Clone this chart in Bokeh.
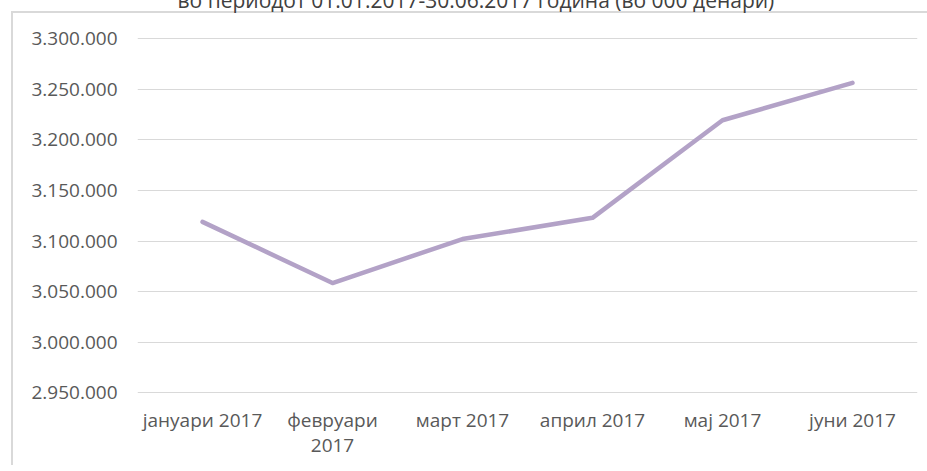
from bokeh.plotting import figure
from bokeh.models import FixedTicker, LinearAxis, Range1d
from bokeh.embed import file_html
from bokeh.resources import INLINE

# ---- data ----
months = ["јануари 2017", "февруари 2017", "март 2017", "април 2017", "мај 2017", "јуни 2017"]
# tick text as shown (февруари 2017 is wrapped onto two lines in the original)
month_first_lines = ["јануари 2017", "февруари", "март 2017", "април 2017", "мај 2017", "јуни 2017"]
month_second_lines = ["", "2017", "", "", "", ""]
values = [3119000, 3058500, 3102000, 3123000, 3219500, 3256500]
y_ticks = [2950000, 3000000, 3050000, 3100000, 3150000, 3200000, 3250000, 3300000]
y_tick_labels = ["2.950.000", "3.000.000", "3.050.000", "3.100.000",
                 "3.150.000", "3.200.000", "3.250.000", "3.300.000"]
title_text = "во периодот 01.01.2017-30.06.2017 година (во 000 денари)"

FONT = "Open Sans"
GRAY = "#595959"
BORDER = "#D9D9D9"

xs = list(range(len(months)))

p = figure(
    x_range=Range1d(-0.5, len(months) - 0.5),
    y_range=Range1d(2949300, 3301300),
    width=927, height=510,
    output_backend="svg", toolbar_location=None,
    min_border_left=137, min_border_right=10,
    min_border_top=82, min_border_bottom=72,
    title=title_text,
)
# canvas starts 45px above the window so the title is cut off as in the original;
# the chart-area frame (top and left edges) is painted behind the transparent canvas
p.styles = {
    "margin-top": "-45px",
    "background-color": "white",
    "background-image": f"linear-gradient({BORDER}, {BORDER}), linear-gradient({BORDER}, {BORDER})",
    "background-size": "100% 2px, 2px 100%",
    "background-position": "11px 56px, 11px 56px",
    "background-repeat": "no-repeat",
}
p.background_fill_color = "white"
p.border_fill_alpha = 0
p.outline_line_color = None

p.title.text_font = FONT
p.title.text_font_size = "21px"
p.title.text_font_style = "normal"
p.title.text_color = "#404040"
p.title.align = "left"
p.title.offset = 40
p.title.standoff = 47

p.line(x=xs, y=values, line_color="#B3A2C7", line_width=4.5,
       line_join="round", line_cap="round")

# y axis
p.yaxis.ticker = FixedTicker(ticks=y_ticks)
p.yaxis.major_label_overrides = dict(zip(y_ticks, y_tick_labels))
p.yaxis.axis_line_color = None
p.yaxis.major_tick_line_color = None
p.yaxis.minor_tick_line_color = None
p.yaxis.major_label_standoff = 14
p.yaxis.major_label_text_font = FONT
p.yaxis.major_label_text_font_size = "19px"
p.yaxis.major_label_text_color = GRAY

# x axis (first line of category labels)
p.xaxis.ticker = FixedTicker(ticks=xs)
p.xaxis.major_label_overrides = dict(zip(xs, month_first_lines))
p.xaxis.axis_line_color = None
p.xaxis.major_tick_line_color = None
p.xaxis.minor_tick_line_color = None
p.xaxis.major_label_standoff = 7
p.xaxis.major_label_text_font = FONT
p.xaxis.major_label_text_font_size = "19px"
p.xaxis.major_label_text_color = GRAY

# second line of the wrapped category label
wrap_ticks = [x for x, t in zip(xs, month_second_lines) if t]
ax2 = LinearAxis(ticker=FixedTicker(ticks=wrap_ticks),
                 major_label_overrides={x: t for x, t in zip(xs, month_second_lines) if t})
ax2.axis_line_color = None
ax2.major_tick_line_color = None
ax2.minor_tick_line_color = None
ax2.major_tick_out = 0
ax2.major_tick_in = 0
ax2.major_label_standoff = 3
ax2.major_label_text_font = FONT
ax2.major_label_text_font_size = "19px"
ax2.major_label_text_color = GRAY
p.add_layout(ax2, "below")

p.xgrid.grid_line_color = None
p.ygrid.grid_line_color = "#D9D9D9"
p.ygrid.grid_line_width = 1

open("out.html", "w").write(file_html(p, INLINE))
